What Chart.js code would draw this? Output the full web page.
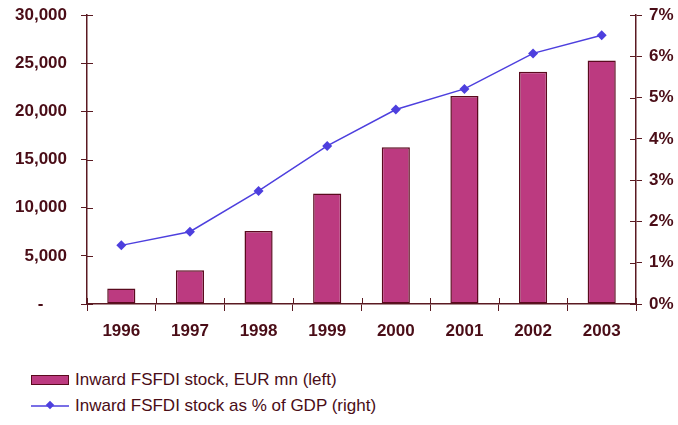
<!DOCTYPE html>
<html>
<head>
<meta charset="utf-8">
<script src="https://cdn.jsdelivr.net/npm/chart.js@4.4.1/dist/chart.umd.min.js"></script>
<style>
  body { margin: 0; background: #fff; font-family: "Liberation Sans", Arial, sans-serif; }
  #wrap { position: relative; width: 678px; height: 425px; }
  #chart-box { position: absolute; left: 0; top: 0; width: 678px; height: 345px; }
  #legend { position: absolute; left: 31px; top: 367px; color: #4a0d17; font-size: 17px; }
  .legend-row { display: flex; align-items: center; height: 26px; }
  .legend-row span.label { margin-left: 6px; }
  .swatch-bar { width: 36px; height: 8px; border: 1px solid #5a0a1e; }
</style>
</head>
<body>
<div id="wrap">
  <div id="chart-box"><canvas id="fdi-chart" width="678" height="345"></canvas></div>
  <div id="legend"></div>
</div>
<script>
// Inward FSFDI stock chart

const years = ['1996', '1997', '1998', '1999', '2000', '2001', '2002', '2003'];
const stockEurMn = [1600, 3500, 7570, 11480, 16280, 21600, 24100, 25270];
const stockPctGdp = [1.42, 1.75, 2.74, 3.83, 4.71, 5.21, 6.07, 6.51];
const leftTicks = [0, 5000, 10000, 15000, 20000, 25000, 30000];
const rightTicks = [0, 1, 2, 3, 4, 5, 6, 7];

const barLabel = 'Inward FSFDI stock, EUR mn (left)';
const lineLabel = 'Inward FSFDI stock as % of GDP (right)';

const textColor = '#4a0d17';
const axisColor = '#5a1a22';
const barColor = '#bc3a80';
const barBorder = '#5a0a1e';
const lineColor = '#4d3fde';
const tickFont = { family: '"Liberation Sans", Arial, sans-serif', size: 17, weight: 'bold' };

// Excel-style ticks cross the axis: Chart.js draws the outer half, this draws the inner half
const innerTicks = {
    id: 'innerTicks',
    afterDatasetsDraw(chart) {
        const ctx = chart.ctx;
        const area = chart.chartArea;
        const y = chart.scales.y;
        const y1 = chart.scales.y1;
        ctx.save();
        ctx.strokeStyle = axisColor;
        ctx.lineWidth = 1;
        ctx.beginPath();
        y.ticks.forEach(function(t, i) {
            const py = Math.round(y.getPixelForTick(i)) + 0.5;
            ctx.moveTo(area.left, py);
            ctx.lineTo(area.left + 6, py);
        });
        y1.ticks.forEach(function(t, i) {
            const py = Math.round(y1.getPixelForTick(i)) + 0.5;
            ctx.moveTo(area.right - 6, py);
            ctx.lineTo(area.right, py);
        });
        const n = years.length;
        for (let i = 0; i <= n; i++) {
            const px = Math.round(area.left + i * (area.right - area.left) / n) + 0.5;
            ctx.moveTo(px, area.bottom - 6);
            ctx.lineTo(px, area.bottom);
        }
        ctx.stroke();
        ctx.restore();
    }
};

// fixed axis widths, and no extra room kept for the top/bottom tick labels
function fitY(width) {
    return function(scale) {
        scale.width = width;
        scale.paddingTop = 0;
        scale.paddingBottom = 0;
    };
}

const ctx = document.getElementById('fdi-chart').getContext('2d');
const fdiChart = new Chart(ctx, {
    data: {
        labels: years,
        datasets: [
            {
                type: 'line',
                label: lineLabel,
                data: stockPctGdp,
                yAxisID: 'y1',
                borderColor: lineColor,
                backgroundColor: lineColor,
                borderWidth: 1.5,
                pointStyle: 'rectRot',
                pointRadius: 5,
                pointBorderWidth: 0,
                tension: 0,
                order: 0
            },
            {
                type: 'bar',
                label: barLabel,
                data: stockEurMn,
                yAxisID: 'y',
                backgroundColor: barColor,
                borderColor: barBorder,
                borderWidth: 1.5,
                borderSkipped: false,
                barPercentage: 0.41,
                categoryPercentage: 1,
                order: 1
            }
        ]
    },
    options: {
        responsive: false,
        animation: false,
        layout: { padding: { top: 15, left: 0, right: 0, bottom: 0 } },
        plugins: {
            legend: { display: false },
            tooltip: { enabled: false }
        },
        scales: {
            x: {
                offset: true,
                grid: { offset: true, drawOnChartArea: false, tickLength: 7, color: axisColor, lineWidth: 1 },
                border: { color: axisColor, width: 1.5 },
                ticks: { color: textColor, font: tickFont, padding: 10, maxRotation: 0 },
                afterFit: function(scale) { scale.height = 41; }
            },
            y: {
                position: 'left',
                min: leftTicks[0],
                max: leftTicks[leftTicks.length - 1],
                afterBuildTicks: function(scale) { scale.ticks = leftTicks.map(v => ({ value: v })); },
                grid: { drawOnChartArea: false, tickLength: 6, color: axisColor, lineWidth: 1 },
                border: { color: axisColor, width: 1.5 },
                ticks: {
                    color: textColor,
                    font: tickFont,
                    padding: 14,
                    callback: function(v) { return v === 0 ? '-     ' : v.toLocaleString('en-US'); }
                },
                afterFit: fitY(87)
            },
            y1: {
                position: 'right',
                min: rightTicks[0],
                max: rightTicks[rightTicks.length - 1],
                afterBuildTicks: function(scale) { scale.ticks = rightTicks.map(v => ({ value: v })); },
                grid: { drawOnChartArea: false, tickLength: 6, color: axisColor, lineWidth: 1 },
                border: { color: axisColor, width: 1.5 },
                ticks: {
                    color: textColor,
                    font: tickFont,
                    padding: 7,
                    callback: function(v) { return v + '%'; }
                },
                afterFit: fitY(42)
            }
        }
    },
    plugins: [innerTicks]
});

// Legend built from the chart datasets
const legend = document.getElementById('legend');
[fdiChart.data.datasets[1], fdiChart.data.datasets[0]].forEach(function(ds) {
    const row = document.createElement('div');
    row.className = 'legend-row';
    if (ds.type === 'bar') {
        const sw = document.createElement('div');
        sw.className = 'swatch-bar';
        sw.style.background = ds.backgroundColor;
        row.appendChild(sw);
    } else {
        row.insertAdjacentHTML('beforeend',
            '<svg width="38" height="12"><line x1="0" y1="6" x2="38" y2="6" stroke="' + ds.borderColor +
            '" stroke-width="1.5"/><rect x="16" y="2" width="6" height="6" fill="' + ds.borderColor +
            '" transform="rotate(45 19 5)"/></svg>');
    }
    const lab = document.createElement('span');
    lab.className = 'label';
    lab.textContent = ds.label;
    row.appendChild(lab);
    legend.appendChild(row);
});
</script>
</body>
</html>
